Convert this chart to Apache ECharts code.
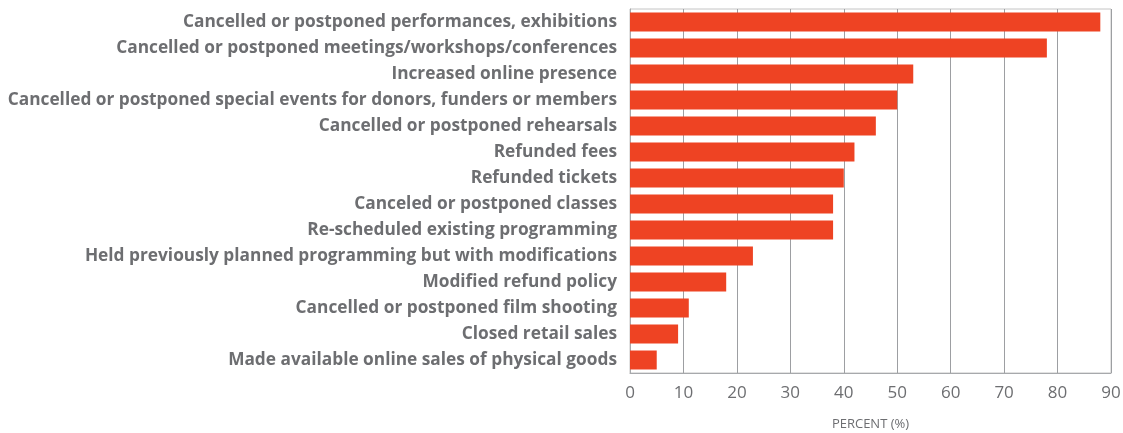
<!DOCTYPE html>
<html>
<head>
<meta charset="utf-8">
<script src="https://cdn.jsdelivr.net/npm/echarts@6/dist/echarts.min.js"></script>
<style>
  html, body { margin: 0; padding: 0; background: #fff; }
  #chart { width: 1123px; height: 433px; }
</style>
</head>
<body>
<div id="chart"></div>
<script>
// categories, top to bottom as in the picture
const categories = [
  'Cancelled or postponed performances, exhibitions',
  'Cancelled or postponed meetings/workshops/conferences',
  'Increased online presence',
  'Cancelled or postponed special events for donors, funders or members',
  'Cancelled or postponed rehearsals',
  'Refunded fees',
  'Refunded tickets',
  'Canceled or postponed classes',
  'Re-scheduled existing programming',
  'Held previously planned programming but with modifications',
  'Modified refund policy',
  'Cancelled or postponed film shooting',
  'Closed retail sales',
  'Made available online sales of physical goods'
];
const percentValues = [88, 78, 53, 50, 46, 42, 40, 38, 38, 23, 18, 11, 9, 5];
const xTicks = [0, 90, 10]; // min, max, interval

const myChart = echarts.init(document.getElementById('chart'));
myChart.setOption({
  animation: false,
  grid: {
    left: 630, right: 12, top: 9, bottom: 60,
    containLabel: false,
    outerBoundsMode: 'none',
    show: true, borderColor: '#c4c4c4', borderWidth: 1
  },
  xAxis: {
    type: 'value',
    min: xTicks[0], max: xTicks[1], interval: xTicks[2],
    name: 'PERCENT (%)',
    nameLocation: 'middle',
    nameGap: 45,
    nameTextStyle: { color: '#6d6e71', fontSize: 13, fontFamily: 'Open Sans' },
    axisLine: { show: true, lineStyle: { color: '#a7a9ac' } },
    axisTick: { show: false },
    axisLabel: { color: '#6d6e71', fontSize: 17, fontFamily: 'Open Sans', margin: 12 },
    splitLine: { show: true, lineStyle: { color: '#9d9fa2', width: 1 } }
  },
  yAxis: {
    type: 'category',
    inverse: true,
    data: categories,
    axisLine: { show: true, lineStyle: { color: '#a7a9ac' } },
    axisTick: { show: false },
    axisLabel: {
      color: '#6d6e71', fontSize: 17.3, fontWeight: 'bold',
      fontFamily: 'Open Sans', margin: 13
    }
  },
  series: [{
    type: 'bar',
    data: percentValues,
    barCategoryGap: '27%',
    itemStyle: { color: '#ee4323' }
  }]
});
</script>
</body>
</html>
